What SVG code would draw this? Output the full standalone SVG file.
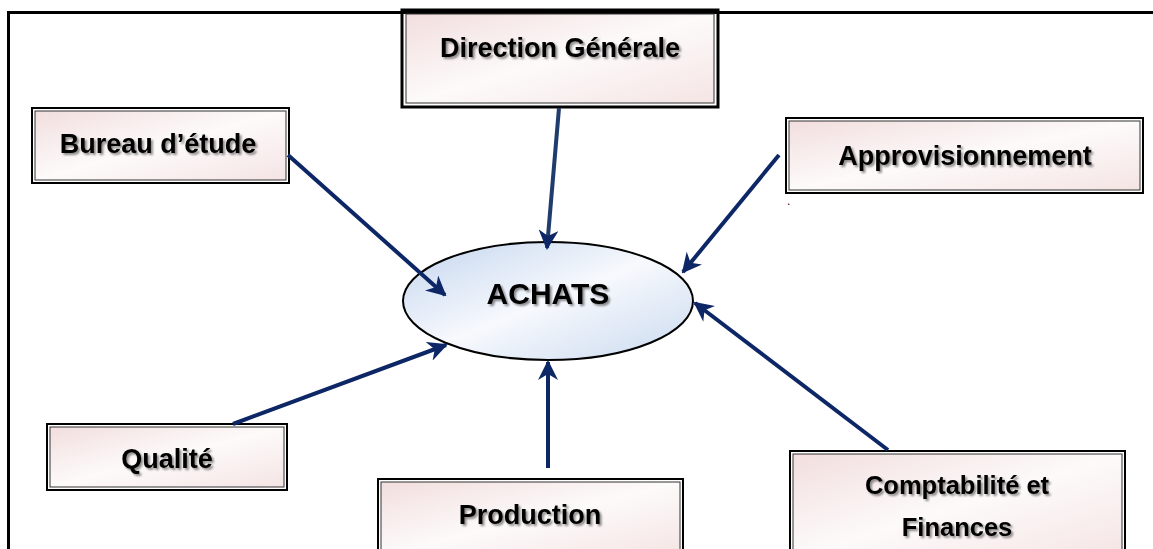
<svg xmlns="http://www.w3.org/2000/svg" width="1153" height="549" viewBox="0 0 1153 549">
<style>
.outer{fill:none;stroke:#000;stroke-width:2}
.inner{fill:url(#pink);stroke:#333;stroke-width:1}
.lbl{font-family:"Liberation Sans",Arial,sans-serif;font-weight:bold;font-size:27px;fill:#000;text-anchor:middle;filter:url(#sh)}
.con{stroke:#0d2766;stroke-width:4;fill:none;marker-end:url(#ah)}
</style>
<defs>
<linearGradient id="pink" x1="0" y1="0" x2="1" y2="1">
<stop offset="0" stop-color="#f2dede"/>
<stop offset="0.5" stop-color="#fdfafa"/>
<stop offset="1" stop-color="#f5e4e4"/>
</linearGradient>
<linearGradient id="blue" x1="0" y1="0" x2="1" y2="1">
<stop offset="0" stop-color="#c3d5ee"/>
<stop offset="0.5" stop-color="#f7f9fd"/>
<stop offset="1" stop-color="#c9d9ef"/>
</linearGradient>
<filter id="sh" x="-10%" y="-20%" width="120%" height="150%">
<feGaussianBlur in="SourceAlpha" stdDeviation="1"/>
<feOffset dx="1.5" dy="1.5"/>
<feComponentTransfer><feFuncA type="linear" slope="0.45"/></feComponentTransfer>
<feMerge><feMergeNode/><feMergeNode in="SourceGraphic"/></feMerge>
</filter>
<marker id="ah" viewBox="0 0 10 10" refX="9" refY="5" markerWidth="5" markerHeight="5" orient="auto" markerUnits="strokeWidth">
<path d="M0,0 L10,5 L0,10 L3,5 Z" fill="#0d2766"/>
</marker>
</defs>
<rect width="1153" height="549" fill="#fff"/>
<path d="M8.5,549 V12.5 H1153" fill="none" stroke="#000" stroke-width="3"/>
<g id="achats">
<ellipse cx="548" cy="301" rx="145" ry="59" fill="url(#blue)" stroke="#000" stroke-width="2"/>
<text class="lbl" x="548" y="304" style="font-size:30px">ACHATS</text>
</g>
<g id="direction">
<rect class="outer" x="402" y="10" width="316" height="97" style="stroke-width:3"/>
<rect class="inner" x="406" y="14" width="308" height="89"/>
<text class="lbl" x="560" y="57">Direction Générale</text>
</g>
<g id="bureau">
<rect class="outer" x="32" y="108" width="257" height="75"/>
<rect class="inner" x="35" y="111" width="251" height="69"/>
<text class="lbl" x="158" y="153">Bureau d’étude</text>
</g>
<g id="appro">
<rect class="outer" x="786" y="118" width="357" height="75"/>
<rect class="inner" x="789" y="121" width="351" height="69"/>
<text class="lbl" x="965" y="165">Approvisionnement</text>
<text x="787" y="205" style="font-family:'Liberation Sans',Arial,sans-serif;font-size:12px">.</text>
</g>
<g id="qualite">
<rect class="outer" x="47" y="424" width="240" height="66"/>
<rect class="inner" x="50" y="427" width="234" height="60"/>
<text class="lbl" x="167" y="468">Qualité</text>
</g>
<g id="production">
<rect class="outer" x="378" y="479" width="305" height="80"/>
<rect class="inner" x="381" y="482" width="299" height="74"/>
<text class="lbl" x="530" y="524">Production</text>
</g>
<g id="compta">
<rect class="outer" x="790" y="451" width="335" height="110"/>
<rect class="inner" x="793" y="454" width="329" height="104"/>
<text class="lbl" x="957" y="494" style="font-size:25.5px">Comptabilité et</text>
<text class="lbl" x="957" y="536" style="font-size:25.5px">Finances</text>
</g>
<g id="connectors">
<line class="con" x1="559" y1="108" x2="547" y2="248" style="stroke:#1f3c6c"/>
<line class="con" x1="288" y1="155" x2="445" y2="295"/>
<line class="con" x1="779" y1="155" x2="683" y2="272"/>
<line class="con" x1="233" y1="424" x2="446" y2="345"/>
<line class="con" x1="548" y1="468" x2="548" y2="362"/>
<line class="con" x1="888" y1="450" x2="695" y2="303"/>
</g>
</svg>
